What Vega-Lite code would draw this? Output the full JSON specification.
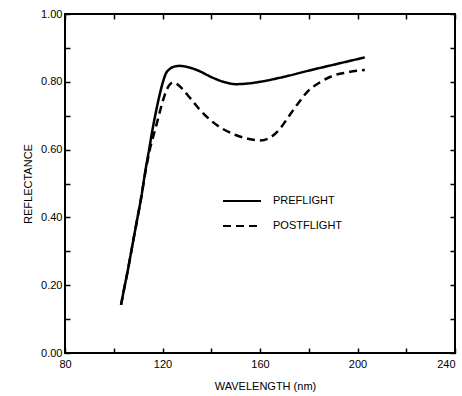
{
  "$schema": "https://vega.github.io/schema/vega-lite/v6.json",
  "width": 390,
  "height": 339,
  "autosize": {"type": "none"},
  "padding": {"left": 65, "top": 14, "right": 7, "bottom": 43},
  "background": "white",
  "config": {
    "view": {"stroke": "black", "strokeWidth": 2},
    "font": "Liberation Sans"
  },
  "data": {"values": [
    {"wl": 103, "r": 0.142, "s": "PREFLIGHT"},
    {"wl": 104, "r": 0.18, "s": "PREFLIGHT"},
    {"wl": 105.8, "r": 0.245, "s": "PREFLIGHT"},
    {"wl": 107.7, "r": 0.32, "s": "PREFLIGHT"},
    {"wl": 109.5, "r": 0.39, "s": "PREFLIGHT"},
    {"wl": 111.3, "r": 0.46, "s": "PREFLIGHT"},
    {"wl": 112.8, "r": 0.53, "s": "PREFLIGHT"},
    {"wl": 114.5, "r": 0.60, "s": "PREFLIGHT"},
    {"wl": 116.1, "r": 0.667, "s": "PREFLIGHT"},
    {"wl": 117.7, "r": 0.725, "s": "PREFLIGHT"},
    {"wl": 119, "r": 0.767, "s": "PREFLIGHT"},
    {"wl": 120.2, "r": 0.80, "s": "PREFLIGHT"},
    {"wl": 121.3, "r": 0.823, "s": "PREFLIGHT"},
    {"wl": 123, "r": 0.838, "s": "PREFLIGHT"},
    {"wl": 125, "r": 0.845, "s": "PREFLIGHT"},
    {"wl": 127, "r": 0.847, "s": "PREFLIGHT"},
    {"wl": 130, "r": 0.844, "s": "PREFLIGHT"},
    {"wl": 135, "r": 0.832, "s": "PREFLIGHT"},
    {"wl": 140, "r": 0.814, "s": "PREFLIGHT"},
    {"wl": 145, "r": 0.800, "s": "PREFLIGHT"},
    {"wl": 150, "r": 0.793, "s": "PREFLIGHT"},
    {"wl": 155, "r": 0.795, "s": "PREFLIGHT"},
    {"wl": 160, "r": 0.800, "s": "PREFLIGHT"},
    {"wl": 170, "r": 0.815, "s": "PREFLIGHT"},
    {"wl": 180, "r": 0.833, "s": "PREFLIGHT"},
    {"wl": 190, "r": 0.850, "s": "PREFLIGHT"},
    {"wl": 203, "r": 0.872, "s": "PREFLIGHT"},
    {"wl": 103, "r": 0.142, "s": "POSTFLIGHT"},
    {"wl": 104, "r": 0.18, "s": "POSTFLIGHT"},
    {"wl": 105.8, "r": 0.245, "s": "POSTFLIGHT"},
    {"wl": 107.7, "r": 0.32, "s": "POSTFLIGHT"},
    {"wl": 109.5, "r": 0.39, "s": "POSTFLIGHT"},
    {"wl": 111.3, "r": 0.46, "s": "POSTFLIGHT"},
    {"wl": 112.9, "r": 0.53, "s": "POSTFLIGHT"},
    {"wl": 114.8, "r": 0.60, "s": "POSTFLIGHT"},
    {"wl": 117.3, "r": 0.667, "s": "POSTFLIGHT"},
    {"wl": 119.6, "r": 0.73, "s": "POSTFLIGHT"},
    {"wl": 121, "r": 0.763, "s": "POSTFLIGHT"},
    {"wl": 122.5, "r": 0.787, "s": "POSTFLIGHT"},
    {"wl": 124.3, "r": 0.798, "s": "POSTFLIGHT"},
    {"wl": 126, "r": 0.793, "s": "POSTFLIGHT"},
    {"wl": 128, "r": 0.78, "s": "POSTFLIGHT"},
    {"wl": 131, "r": 0.755, "s": "POSTFLIGHT"},
    {"wl": 135, "r": 0.72, "s": "POSTFLIGHT"},
    {"wl": 140, "r": 0.685, "s": "POSTFLIGHT"},
    {"wl": 145, "r": 0.66, "s": "POSTFLIGHT"},
    {"wl": 150, "r": 0.643, "s": "POSTFLIGHT"},
    {"wl": 155, "r": 0.632, "s": "POSTFLIGHT"},
    {"wl": 160, "r": 0.627, "s": "POSTFLIGHT"},
    {"wl": 164, "r": 0.635, "s": "POSTFLIGHT"},
    {"wl": 168, "r": 0.66, "s": "POSTFLIGHT"},
    {"wl": 172, "r": 0.70, "s": "POSTFLIGHT"},
    {"wl": 176, "r": 0.74, "s": "POSTFLIGHT"},
    {"wl": 180, "r": 0.775, "s": "POSTFLIGHT"},
    {"wl": 185, "r": 0.80, "s": "POSTFLIGHT"},
    {"wl": 190, "r": 0.818, "s": "POSTFLIGHT"},
    {"wl": 196, "r": 0.828, "s": "POSTFLIGHT"},
    {"wl": 203, "r": 0.835, "s": "POSTFLIGHT"}
  ]},
  "layer": [
    {
      "transform": [{"filter": "datum.s === 'PREFLIGHT'"}],
      "mark": {"type": "line", "interpolate": "monotone", "color": "black", "strokeWidth": 2.5},
      "encoding": {
        "x": {"field": "wl", "type": "quantitative", "scale": {"domain": [80, 240], "nice": false},
          "axis": {"orient": "bottom", "title": "WAVELENGTH (nm)", "values": [80, 100, 120, 140, 160, 180, 200, 220, 240], "labelExpr": "datum.value % 40 === 0 ? datum.value : ''", "domain": false, "grid": false, "ticks": true, "tickColor": "black", "tickWidth": 1.5, "offset": -5, "tickSize": 5, "labelPadding": 5, "labelFont": "Liberation Sans", "labelFontSize": 11, "labelColor": "black", "titleFont": "Liberation Sans", "titleFontSize": 11, "titleFontWeight": "normal", "titleColor": "black", "titleX": 200, "titleY": 38, "titleBaseline": "middle", "labelFlush": false, "labelAlign": {"expr": "datum.value === 240 ? 'right' : 'center'"}}},
        "y": {"field": "r", "type": "quantitative", "scale": {"domain": [0, 1], "nice": false},
          "axis": {"orient": "left", "title": "REFLECTANCE", "values": [0, 0.1, 0.2, 0.3, 0.4, 0.5, 0.6, 0.7, 0.8, 0.9, 1.0], "labelExpr": "round(datum.value * 10) % 2 === 0 ? format(datum.value, '.2f') : ''", "domain": false, "grid": false, "ticks": true, "tickColor": "black", "tickWidth": 1.5, "offset": -5, "tickSize": 5, "labelPadding": 3, "labelFont": "Liberation Sans", "labelFontSize": 11, "labelColor": "black", "titleFont": "Liberation Sans", "titleFontSize": 11, "titleFontWeight": "normal", "titleColor": "black", "titleX": -42, "titleY": 169.5, "titleBaseline": "middle", "titleAlign": "center", "labelFlush": false}},
        "strokeDash": {"field": "s", "type": "nominal",
          "scale": {"domain": ["PREFLIGHT", "POSTFLIGHT"], "range": [[1, 0], [8, 5]]},
          "legend": {"title": null, "orient": "none", "legendX": 157, "legendY": 167, "symbolType": "stroke", "symbolSize": 1444, "symbolStrokeColor": "black", "symbolStrokeWidth": 2, "labelFont": "Liberation Sans", "labelFontSize": 11, "labelColor": "black", "labelOffset": 11, "rowPadding": -11}}
      }
    },
    {
      "transform": [{"filter": "datum.s === 'POSTFLIGHT'"}],
      "mark": {"type": "line", "interpolate": "monotone", "color": "black", "strokeWidth": 2.5},
      "encoding": {
        "x": {"field": "wl", "type": "quantitative", "scale": {"domain": [80, 240], "nice": false},
          "axis": {"orient": "top", "title": null, "values": [80, 100, 120, 140, 160, 180, 200, 220, 240], "labels": false, "domain": false, "grid": false, "ticks": true, "tickColor": "black", "tickWidth": 1.5, "offset": -5, "tickSize": 5}},
        "y": {"field": "r", "type": "quantitative", "scale": {"domain": [0, 1], "nice": false},
          "axis": {"orient": "right", "title": null, "values": [0, 0.1, 0.2, 0.3, 0.4, 0.5, 0.6, 0.7, 0.8, 0.9, 1.0], "labels": false, "domain": false, "grid": false, "ticks": true, "tickColor": "black", "tickWidth": 1.5, "offset": -5, "tickSize": 5}},
        "strokeDash": {"field": "s", "type": "nominal",
          "scale": {"domain": ["PREFLIGHT", "POSTFLIGHT"], "range": [[1, 0], [8, 5]]}}
      }
    }
  ],
  "resolve": {"axis": {"x": "independent", "y": "independent"}}
}
